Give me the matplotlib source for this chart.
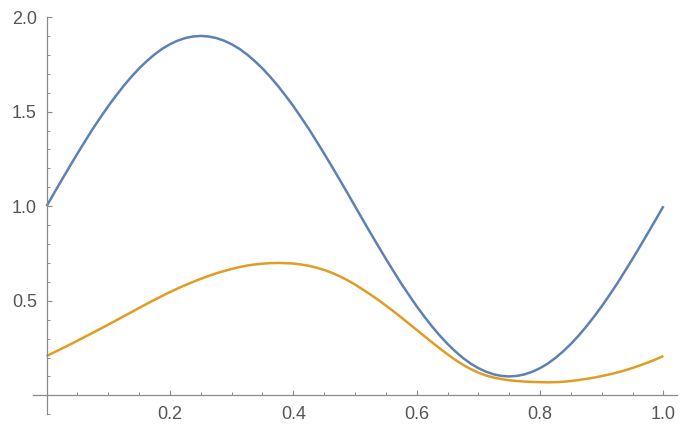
import matplotlib
matplotlib.use("Agg")
import matplotlib.pyplot as plt
import numpy as np
from matplotlib.ticker import FixedLocator, FixedFormatter

# sample positions (step 0.0125)
x_vals = np.linspace(0.0, 1.0, 81)

blue_vals = [1.000, 1.071, 1.141, 1.210, 1.278, 1.344, 1.409, 1.470, 1.529, 1.584,
             1.636, 1.684, 1.728, 1.767, 1.802, 1.832, 1.856, 1.875, 1.889, 1.897,
             1.900, 1.897, 1.889, 1.875, 1.856, 1.832, 1.802, 1.767, 1.728, 1.684,
             1.636, 1.584, 1.529, 1.470, 1.409, 1.344, 1.278, 1.210, 1.141, 1.071,
             1.000, 0.929, 0.859, 0.790, 0.722, 0.656, 0.591, 0.530, 0.471, 0.416,
             0.364, 0.316, 0.272, 0.233, 0.198, 0.168, 0.144, 0.125, 0.111, 0.103,
             0.100, 0.103, 0.111, 0.125, 0.144, 0.168, 0.198, 0.233, 0.272, 0.316,
             0.364, 0.416, 0.471, 0.530, 0.591, 0.656, 0.722, 0.790, 0.859, 0.929,
             1.000]

orange_vals = [0.208, 0.228, 0.248, 0.268, 0.289, 0.310, 0.331, 0.352, 0.374, 0.396,
               0.418, 0.440, 0.462, 0.484, 0.505, 0.526, 0.546, 0.565, 0.583, 0.600,
               0.616, 0.631, 0.645, 0.657, 0.668, 0.678, 0.686, 0.692, 0.696, 0.699,
               0.700, 0.699, 0.697, 0.692, 0.685, 0.675, 0.663, 0.648, 0.630, 0.609,
               0.586, 0.560, 0.533, 0.505, 0.475, 0.444, 0.412, 0.379, 0.346, 0.313,
               0.280, 0.248, 0.217, 0.188, 0.162, 0.139, 0.120, 0.105, 0.094, 0.086,
               0.080, 0.076, 0.073, 0.071, 0.070, 0.069, 0.070, 0.072, 0.076, 0.081,
               0.087, 0.094, 0.102, 0.111, 0.121, 0.132, 0.145, 0.159, 0.174, 0.190,
               0.208]

x_ticks = [0.2, 0.4, 0.6, 0.8, 1.0]
x_labels = ["0.2", "0.4", "0.6", "0.8", "1.0"]
y_ticks = [0.5, 1.0, 1.5, 2.0]
y_labels = ["0.5", "1.0", "1.5", "2.0"]

plt.rcParams['font.family'] = ['Liberation Sans', 'DejaVu Sans']

fig = plt.figure(figsize=(6.81, 4.28), dpi=100)
ax = fig.add_axes([33/681, 13.7/428, (677-33)/681, (414.3-17)/428])

ax.plot(x_vals, blue_vals, color='#5E81B5', lw=1.8, clip_on=False,
        solid_joinstyle='round', solid_capstyle='butt')
ax.plot(x_vals, orange_vals, color='#E19C24', lw=1.8, clip_on=False,
        solid_joinstyle='round', solid_capstyle='butt')

ax.set_xlim(-0.022, 1.022)
ax.set_ylim(-0.1, 2.0)

for s in ['top', 'right']:
    ax.spines[s].set_visible(False)
ax.spines['left'].set_position(('data', 0))
ax.spines['bottom'].set_position(('data', 0))
axis_col = '#8a8a8a'
for s in ['left', 'bottom']:
    ax.spines[s].set_color(axis_col)
    ax.spines[s].set_linewidth(0.9)

ax.xaxis.set_major_locator(FixedLocator(x_ticks))
ax.xaxis.set_major_formatter(FixedFormatter(x_labels))
ax.yaxis.set_major_locator(FixedLocator(y_ticks))
ax.yaxis.set_major_formatter(FixedFormatter(y_labels))
ax.xaxis.set_minor_locator(FixedLocator([0.05, 0.1, 0.15, 0.25, 0.3, 0.35, 0.45, 0.5, 0.55,
                                         0.65, 0.7, 0.75, 0.85, 0.9, 0.95]))
ax.yaxis.set_minor_locator(FixedLocator([-0.1, 0.1, 0.2, 0.3, 0.4, 0.6, 0.7, 0.8, 0.9,
                                         1.1, 1.2, 1.3, 1.4, 1.6, 1.7, 1.8, 1.9]))

ax.tick_params(which='major', direction='in', length=3.5, width=0.8, color=axis_col,
               labelsize=13, labelcolor='#555555')
ax.tick_params(which='minor', direction='in', length=2, width=0.7, color=axis_col)
ax.tick_params(axis='x', which='major', pad=8)
ax.tick_params(axis='y', which='major', pad=7)

fig.savefig("out.png", dpi=100)
